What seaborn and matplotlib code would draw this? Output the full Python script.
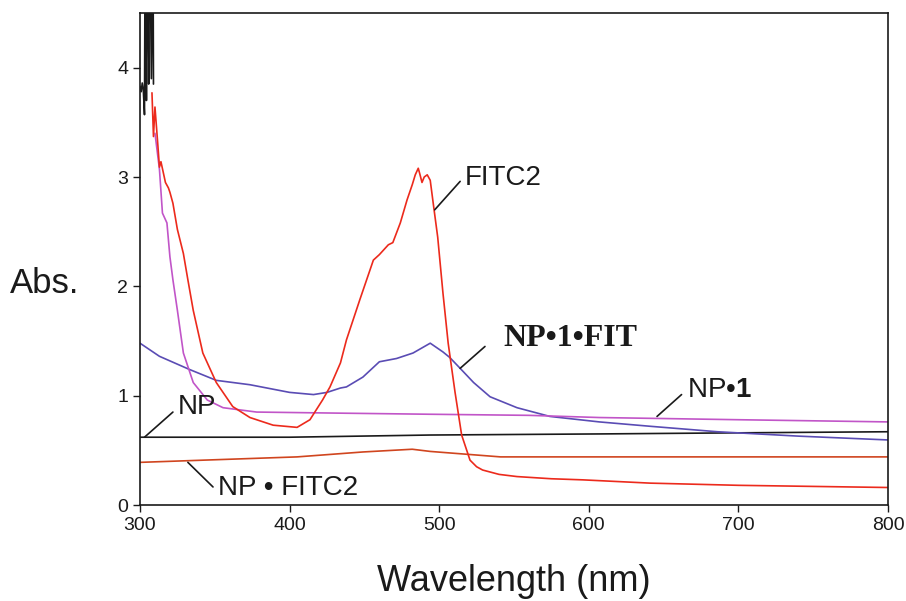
import matplotlib
matplotlib.use("Agg")
import matplotlib.pyplot as plt
import seaborn as sns

# ---- data ----
sat_wl = [300, 300.8, 301.5, 302.2, 303.0, 303.3, 303.8, 304.3, 304.7, 305.3, 305.8,
          306.2, 307.0, 307.6, 308.3, 308.8, 309.0]
sat_abs = [3.83, 3.78, 3.86, 3.80, 3.57, 4.7, 4.7, 3.70, 4.7, 4.7, 3.85,
           4.7, 4.7, 3.90, 4.7, 4.7, 3.85]

fitc2_wl = [308, 309, 310, 312, 313, 314, 317, 319, 320, 322, 325, 329, 332, 335.6, 342,
            351, 362, 373.5, 389, 405, 413.6, 422, 427, 434, 438, 447, 456, 460, 466, 469,
            474, 478.5, 482, 484, 486, 487, 488.5, 490, 492, 494, 496, 499, 502.5, 506,
            510.6, 515, 520.6, 525, 529, 540, 552, 575, 596, 641, 700, 750, 800]
fitc2_abs = [3.77, 3.37, 3.64, 3.28, 3.09, 3.14, 2.95, 2.90, 2.86, 2.76, 2.52, 2.30, 2.06,
             1.78, 1.39, 1.12, 0.90, 0.80, 0.73, 0.71, 0.78, 0.96, 1.08, 1.30, 1.51, 1.88,
             2.24, 2.29, 2.38, 2.40, 2.58, 2.79, 2.93, 3.02, 3.08, 3.03, 2.95, 3.00, 3.02,
             2.97, 2.76, 2.45, 1.94, 1.48, 1.03, 0.64, 0.41, 0.35, 0.32, 0.28, 0.26, 0.24,
             0.23, 0.20, 0.18, 0.17, 0.16]

np1_wl = [310, 313, 315, 318, 320, 322, 325, 329, 335.6, 345, 355.5, 378, 434, 494, 560,
          607, 700, 800]
np1_abs = [3.40, 3.07, 2.67, 2.58, 2.27, 2.06, 1.78, 1.39, 1.12, 0.96, 0.89, 0.85, 0.84,
           0.83, 0.82, 0.80, 0.78, 0.76]

np1fit_wl = [300, 313, 333, 351, 373.5, 400, 416, 425, 434, 438, 449, 460, 471.5, 482.5,
             494, 502.5, 507, 514, 523, 534, 552, 574, 607, 641, 686, 740, 800]
np1fit_abs = [1.48, 1.36, 1.24, 1.14, 1.10, 1.03, 1.01, 1.03, 1.07, 1.08, 1.17, 1.31, 1.34,
              1.39, 1.48, 1.40, 1.35, 1.25, 1.12, 0.99, 0.89, 0.81, 0.76, 0.72, 0.67, 0.63,
              0.595]

np_wl = [300, 400, 494, 607, 700, 800]
np_abs = [0.62, 0.62, 0.64, 0.65, 0.66, 0.67]

npfitc2_wl = [300, 405, 449, 482, 494, 541, 607, 800]
npfitc2_abs = [0.39, 0.44, 0.485, 0.51, 0.49, 0.44, 0.44, 0.44]

# ---- figure ----
sns.set_style("ticks")
plt.rcParams['font.family'] = ['Liberation Sans', 'DejaVu Sans']
plt.rcParams['mathtext.fontset'] = 'custom'
plt.rcParams['mathtext.rm'] = 'Liberation Sans'
plt.rcParams['mathtext.bf'] = 'Liberation Sans:bold'

fig = plt.figure(figsize=(9.06, 6.01), dpi=100)
ax = fig.add_axes([140 / 906, 96 / 601, 748 / 906, 492 / 601])

lw = 1.2
sns.lineplot(x=np_wl, y=np_abs, color="#1a1a1a", lw=lw, ax=ax, sort=False)
sns.lineplot(x=npfitc2_wl, y=npfitc2_abs, color="#d0451f", lw=lw, ax=ax, sort=False)
sns.lineplot(x=np1fit_wl, y=np1fit_abs, color="#5a4cb4", lw=lw, ax=ax, sort=False)
sns.lineplot(x=np1_wl, y=np1_abs, color="#c155c8", lw=lw, ax=ax, sort=False)
sns.lineplot(x=fitc2_wl, y=fitc2_abs, color="#ec2a1c", lw=lw, ax=ax, sort=False)
sns.lineplot(x=sat_wl, y=sat_abs, color="#1a1a1a", lw=lw, ax=ax, sort=False)

ax.set_xlim(300, 800)
ax.set_ylim(0, 4.5)
ax.set_xticks([300, 400, 500, 600, 700, 800])
ax.set_yticks([0, 1, 2, 3, 4])
ax.tick_params(direction="out", length=5, width=1, labelsize=14, colors="#1a1a1a")
for s in ax.spines.values():
    s.set_linewidth(1.2)
    s.set_color("#1a1a1a")
    s.set_visible(True)

ax.set_xlabel("Wavelength (nm)", fontsize=26, labelpad=22, color="#1a1a1a")
ax.set_ylabel("Abs.", fontsize=25, rotation=0, va="center", ha="center", color="#1a1a1a")
ax.yaxis.set_label_coords(-0.127, 0.451)

# ---- annotations ----
line_kw = dict(arrowstyle="-", color="#1a1a1a", lw=1.2, shrinkA=0, shrinkB=0)

def label(text, pt, end, txt_xy, **kw):
    ax.annotate("", xy=pt, xytext=end, arrowprops=line_kw)
    ax.text(txt_xy[0], txt_xy[1], text, va="center", ha="left", color="#1a1a1a", **kw)

label("FITC2", (497, 2.70), (514, 2.96), (517, 2.99), fontsize=20)
label("NP\u20221\u2022FIT", (514, 1.25), (530.6, 1.45), (542.6, 1.52), fontsize=23,
      fontweight="bold", family=["Liberation Serif", "DejaVu Serif"])
label("NP\u2022$\\mathbf{1}$", (645.6, 0.81), (662, 1.01), (665.6, 1.05), fontsize=20)
label("NP", (303, 0.62), (322, 0.85), (325.4, 0.90), fontsize=20)
label("NP \u2022 FITC2", (332, 0.39), (348.8, 0.165), (352, 0.156), fontsize=20)

fig.savefig("out.png", dpi=100)
